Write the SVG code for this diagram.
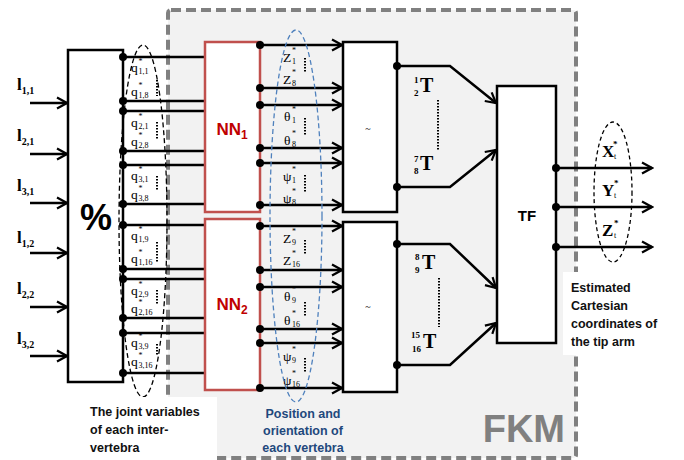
<svg xmlns="http://www.w3.org/2000/svg" width="684" height="460" viewBox="0 0 684 460">
<style>
.ln{stroke:#000;stroke-width:2.5;fill:none}
.arr{stroke:#000;stroke-width:2.5;fill:none;marker-end:url(#ah)}
.box{fill:#fff;stroke:#000;stroke-width:2.5}
.nn{fill:#fff;stroke:#c0504d;stroke-width:2.5}
.dot{fill:#000}
.dotted{stroke:#000;stroke-width:2;stroke-dasharray:1.5,1.5;fill:none}
.ser{font-family:"Liberation Serif","DejaVu Serif",serif;fill:#000}
.q{font-size:13.5px}
.s{font-size:8px}
.lb{font-size:17px;font-weight:bold}
.ls{font-size:10px;font-weight:bold}
.T{font-size:20px;font-weight:bold}
.Ts{font-size:9px;font-weight:bold}
.sans{font-family:"Liberation Sans","DejaVu Sans",sans-serif}
.note{font-size:12.5px;font-weight:bold;fill:#111}
.blue{font-size:12.5px;font-weight:bold;fill:#1f497d}
</style>
<defs>
<marker id="ah" markerUnits="userSpaceOnUse" markerWidth="14" markerHeight="14" viewBox="0 0 14 14" refX="12" refY="7" orient="auto">
<path d="M2,1.5 L12,7 L2,12.5" fill="none" stroke="#000" stroke-width="2.2"/>
</marker>
</defs>
<rect width="684" height="460" fill="#fff"/>
<g id="fkm">
<rect x="168" y="10" width="408" height="448" rx="3" fill="#f2f2f2" stroke="#808080" stroke-width="4" stroke-dasharray="10,5"/>
<text x="565" y="442" text-anchor="end" class="sans" font-size="38" font-weight="bold" fill="#808080">FKM</text>
</g>
<g id="inputs">
<text class="ser lb" x="17" y="90">l<tspan class="ls" dy="4">1,1</tspan></text>
<text class="ser lb" x="17" y="141">l<tspan class="ls" dy="4">2,1</tspan></text>
<text class="ser lb" x="17" y="191">l<tspan class="ls" dy="4">3,1</tspan></text>
<text class="ser lb" x="17" y="243">l<tspan class="ls" dy="4">1,2</tspan></text>
<text class="ser lb" x="17" y="294">l<tspan class="ls" dy="4">2,2</tspan></text>
<text class="ser lb" x="17" y="344">l<tspan class="ls" dy="4">3,2</tspan></text>
</g>
<g id="connectors">
<path class="arr" d="M30,103H67"/><path class="arr" d="M30,154H67"/><path class="arr" d="M30,203H67"/>
<path class="arr" d="M30,253H67"/><path class="arr" d="M30,307H67"/><path class="arr" d="M30,356H67"/>
<path class="ln" d="M123,57H205M123,101H205M123,111H205M123,151H205M123,165H205M123,204H205M123,225H205M123,269H205M123,279H205M123,318H205M123,333H205M123,373H205"/>
<path class="arr" d="M260,45H342"/><path class="arr" d="M260,88H342"/><path class="arr" d="M260,105H342"/>
<path class="arr" d="M260,148H342"/><path class="arr" d="M260,163H342"/><path class="arr" d="M260,205H342"/>
<path class="arr" d="M260,226H342"/><path class="arr" d="M260,270H342"/><path class="arr" d="M260,287H342"/>
<path class="arr" d="M260,329H342"/><path class="arr" d="M260,343H342"/><path class="arr" d="M260,388H342"/>
<path class="arr" d="M397,66H450L496,103"/><path class="arr" d="M397,187H450L496,150"/>
<path class="arr" d="M397,244H450L496,288"/><path class="arr" d="M397,365H450L496,323"/>
<path class="arr" d="M556,168H652"/><path class="arr" d="M556,207H652"/><path class="arr" d="M556,247H652"/>
</g>
<g id="percent">
<rect class="box" x="68" y="50" width="55" height="332"/>
<text x="96" y="230" text-anchor="middle" class="sans" font-size="36" font-weight="bold">%</text>
</g>
<g id="nn1">
<rect class="nn" x="205" y="42" width="55" height="170"/>
<text x="232" y="135" text-anchor="middle" class="sans" font-size="17" font-weight="bold" fill="#c00000">NN<tspan font-size="12" dy="4">1</tspan></text>
</g>
<g id="nn2">
<rect class="nn" x="205" y="219" width="55" height="171"/>
<text x="232" y="310" text-anchor="middle" class="sans" font-size="17" font-weight="bold" fill="#c00000">NN<tspan font-size="12" dy="4">2</tspan></text>
</g>
<g id="tilde1">
<rect class="box" x="343" y="42" width="54" height="170"/>
<text x="368" y="132" text-anchor="middle" class="ser" font-size="10">~</text>
</g>
<g id="tilde2">
<rect class="box" x="343" y="222" width="54" height="170"/>
<text x="368" y="310" text-anchor="middle" class="ser" font-size="10">~</text>
</g>
<g id="tf">
<rect class="box" x="497" y="86" width="59" height="257"/>
<text x="527" y="221" text-anchor="middle" class="sans" font-size="15" font-weight="bold">TF</text>
</g>
<g id="dots">
<g class="dot">
<circle cx="123" cy="57" r="4"/><circle cx="123" cy="101" r="4"/><circle cx="123" cy="111" r="4"/><circle cx="123" cy="151" r="4"/><circle cx="123" cy="165" r="4"/><circle cx="123" cy="204" r="4"/>
<circle cx="123" cy="225" r="4"/><circle cx="123" cy="269" r="4"/><circle cx="123" cy="279" r="4"/><circle cx="123" cy="318" r="4"/><circle cx="123" cy="333" r="4"/><circle cx="123" cy="373" r="4"/>
<circle cx="260" cy="45" r="4"/><circle cx="260" cy="88" r="4"/><circle cx="260" cy="105" r="4"/><circle cx="260" cy="148" r="4"/><circle cx="260" cy="163" r="4"/><circle cx="260" cy="205" r="4"/>
<circle cx="260" cy="226" r="4"/><circle cx="260" cy="270" r="4"/><circle cx="260" cy="287" r="4"/><circle cx="260" cy="329" r="4"/><circle cx="260" cy="343" r="4"/><circle cx="260" cy="388" r="4"/>
<circle cx="397" cy="66" r="4"/><circle cx="397" cy="187" r="4"/><circle cx="397" cy="244" r="4"/><circle cx="397" cy="365" r="4"/>
<circle cx="556" cy="168" r="4"/><circle cx="556" cy="207" r="4"/><circle cx="556" cy="247" r="4"/>
</g>
</g>
<g id="qlabels">
<text class="ser q" x="131" y="72">q</text><text class="ser s" x="138.5" y="64">*</text><text class="ser s" x="138.5" y="74">1,1</text>
<text class="ser q" x="131" y="96">q</text><text class="ser s" x="138.5" y="88">*</text><text class="ser s" x="138.5" y="98">1,8</text>
<text class="ser q" x="131" y="127">q</text><text class="ser s" x="138.5" y="119">*</text><text class="ser s" x="138.5" y="129">2,1</text>
<text class="ser q" x="131" y="146">q</text><text class="ser s" x="138.5" y="138">*</text><text class="ser s" x="138.5" y="148">2,8</text>
<text class="ser q" x="131" y="180">q</text><text class="ser s" x="138.5" y="172">*</text><text class="ser s" x="138.5" y="182">3,1</text>
<text class="ser q" x="131" y="199">q</text><text class="ser s" x="138.5" y="191">*</text><text class="ser s" x="138.5" y="201">3,8</text>
<text class="ser q" x="131" y="240">q</text><text class="ser s" x="138.5" y="232">*</text><text class="ser s" x="138.5" y="242">1,9</text>
<text class="ser q" x="131" y="263">q</text><text class="ser s" x="138.5" y="255">*</text><text class="ser s" x="138.5" y="265">1,16</text>
<text class="ser q" x="131" y="295">q</text><text class="ser s" x="138.5" y="287">*</text><text class="ser s" x="138.5" y="297">2,9</text>
<text class="ser q" x="131" y="313">q</text><text class="ser s" x="138.5" y="305">*</text><text class="ser s" x="138.5" y="315">2,16</text>
<text class="ser q" x="131" y="347">q</text><text class="ser s" x="138.5" y="339">*</text><text class="ser s" x="138.5" y="349">3,9</text>
<text class="ser q" x="131" y="366">q</text><text class="ser s" x="138.5" y="358">*</text><text class="ser s" x="138.5" y="368">3,16</text>
<path class="dotted" d="M157,80V96M157,122V140M157,176V190M157,242V262M157,290V304M157,344V356"/>
</g>
<g id="zlabels">
<text class="ser q" x="283" y="62">Z</text><text class="ser s" x="292" y="53">*</text><text class="ser s" x="292" y="64">1</text>
<text class="ser q" x="283" y="84">Z</text><text class="ser s" x="292" y="75">*</text><text class="ser s" x="292" y="86">8</text>
<text class="ser q" x="284" y="121">θ</text><text class="ser s" x="292" y="112">*</text><text class="ser s" x="292" y="123">1</text>
<text class="ser q" x="284" y="145">θ</text><text class="ser s" x="292" y="136">*</text><text class="ser s" x="292" y="147">8</text>
<text class="ser q" x="283" y="181">ψ</text><text class="ser s" x="292" y="172">*</text><text class="ser s" x="292" y="183">1</text>
<text class="ser q" x="283" y="203">ψ</text><text class="ser s" x="292" y="194">*</text><text class="ser s" x="292" y="205">8</text>
<text class="ser q" x="283" y="243">Z</text><text class="ser s" x="292" y="234">*</text><text class="ser s" x="292" y="245">9</text>
<text class="ser q" x="283" y="265">Z</text><text class="ser s" x="292" y="256">*</text><text class="ser s" x="292" y="267">16</text>
<text class="ser q" x="284" y="301">θ</text><text class="ser s" x="292" y="292">*</text><text class="ser s" x="292" y="303">9</text>
<text class="ser q" x="284" y="325">θ</text><text class="ser s" x="292" y="316">*</text><text class="ser s" x="292" y="327">16</text>
<text class="ser q" x="283" y="361">ψ</text><text class="ser s" x="292" y="352">*</text><text class="ser s" x="292" y="363">9</text>
<text class="ser q" x="283" y="385">ψ</text><text class="ser s" x="292" y="376">*</text><text class="ser s" x="292" y="387">16</text>
<path class="dotted" d="M305,58V73M305,118V135M305,175V193M305,240V255M305,302V317M305,358V373"/>
</g>
<g id="tlabels">
<text class="ser Ts" x="414" y="83">1</text><text class="ser Ts" x="414" y="96">2</text><text class="ser T" x="420" y="92">T</text>
<text class="ser Ts" x="414" y="162">7</text><text class="ser Ts" x="414" y="174">8</text><text class="ser T" x="420" y="170">T</text>
<path class="dotted" d="M438,100V150"/>
<text class="ser Ts" x="415" y="260">8</text><text class="ser Ts" x="415" y="273">9</text><text class="ser T" x="422" y="269">T</text>
<text class="ser Ts" x="411" y="338">15</text><text class="ser Ts" x="412" y="352">16</text><text class="ser T" x="423" y="348">T</text>
<path class="dotted" d="M439,278V327"/>
</g>
<g id="outlabels">
<text class="ser" x="602" y="157" font-size="17" font-weight="bold">X</text><text class="ser" x="613" y="147" font-size="9" font-weight="bold">*</text><text class="ser" x="614" y="159" font-size="8">t</text>
<text class="ser" x="602" y="196" font-size="17" font-weight="bold">Y</text><text class="ser" x="614" y="186" font-size="9" font-weight="bold">*</text><text class="ser" x="614" y="198" font-size="8">t</text>
<text class="ser" x="602" y="236" font-size="17" font-weight="bold">Z</text><text class="ser" x="614" y="226" font-size="9" font-weight="bold">*</text><text class="ser" x="614" y="238" font-size="8">t</text>
</g>
<g id="ellipses" fill="none">
<ellipse cx="143" cy="221" rx="24" ry="176" stroke="#000" stroke-width="1.3" stroke-dasharray="5,3"/>
<ellipse cx="296" cy="216" rx="26" ry="186" stroke="#4f81bd" stroke-width="1.3" stroke-dasharray="5,3"/>
<ellipse cx="613" cy="192" rx="19" ry="70" stroke="#000" stroke-width="1.3" stroke-dasharray="4,3"/>
</g>
<g id="note-joint">
<rect x="80" y="397" width="137" height="63" fill="#fff"/>
<text class="sans note" x="90" y="416">The joint variables</text>
<text class="sans note" x="90" y="434">of each inter-</text>
<text class="sans note" x="90" y="452">vertebra</text>
</g>
<g id="note-position">
<text class="sans blue" x="303" y="418" text-anchor="middle">Position and</text>
<text class="sans blue" x="303" y="435" text-anchor="middle">orientation of</text>
<text class="sans blue" x="303" y="452" text-anchor="middle">each vertebra</text>
</g>
<g id="note-estimated">
<rect x="563" y="272" width="121" height="83" fill="#fff"/>
<text class="sans note" x="571" y="292">Estimated</text>
<text class="sans note" x="571" y="310">Cartesian</text>
<text class="sans note" x="571" y="328">coordinates of</text>
<text class="sans note" x="571" y="346">the tip arm</text>
</g>
</svg>
